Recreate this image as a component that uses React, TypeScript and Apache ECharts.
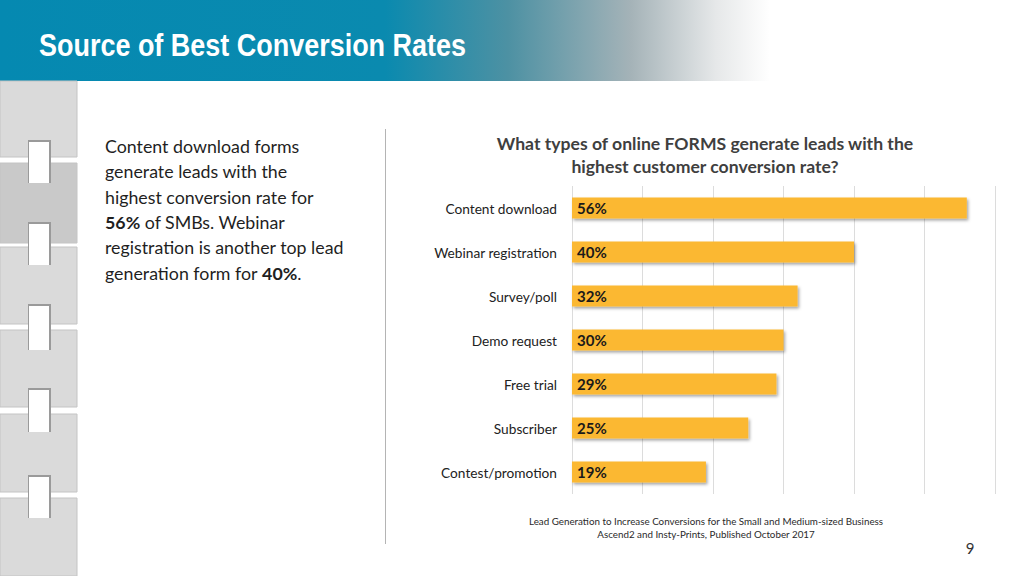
import React, { useEffect, useRef } from "react";
import * as echarts from "echarts";

const categories = [
  "Content download",
  "Webinar registration",
  "Survey/poll",
  "Demo request",
  "Free trial",
  "Subscriber",
  "Contest/promotion",
];
const values = [56, 40, 32, 30, 29, 25, 19];
const xTicks = [0, 10, 20, 30, 40, 50, 60];

const slideTitle = "Source of Best Conversion Rates";
const chartTitle = "What types of online FORMS generate leads with the\nhighest customer conversion rate?";
const bodyText =
  "Content download forms\ngenerate leads with the\nhighest conversion rate for\n{b|56%} of SMBs. Webinar\nregistration is another top lead\ngeneration form for {b|40%}.";
const sourceText =
  "Lead Generation to Increase Conversions for the Small and Medium-sized Business\nAscend2 and Insty-Prints, Published October 2017";
const pageNumber = "9";

const tiles = [
  [81, 157, "#dadada"],
  [163, 243, "#c9c9c9"],
  [247, 324, "#dadada"],
  [330, 407, "#dadada"],
  [414, 492, "#dadada"],
  [498, 576, "#dadada"],
];
const tabs = [
  [140, 183],
  [222, 265],
  [304, 350],
  [388, 432],
  [475, 518],
];

const FONT = "Lato, 'Open Sans', sans-serif";

export default function App() {
  const ref = useRef<HTMLDivElement>(null);
  useEffect(() => {
    document.body.style.margin = "0";
    const chart = echarts.init(ref.current!, null, { renderer: "svg" });
    const graphics: any[] = [];
    graphics.push({
      type: "rect",
      shape: { x: 0, y: 0, width: 770, height: 81 },
      style: {
        fill: new echarts.graphic.LinearGradient(0, 0, 1, 0, [
          { offset: 0, color: "#0589b1" },
          { offset: 0.5, color: "#0a8aaf" },
          { offset: 0.66, color: "#4d91a3" },
          { offset: 0.82, color: "#a5b3b8" },
          { offset: 0.93, color: "#e6e8e9" },
          { offset: 1, color: "#ffffff" },
        ]),
      },
      silent: true,
    });
    graphics.push({
      type: "text",
      x: 39,
      y: 45,
      scaleX: 0.87,
      style: {
        text: slideTitle,
        fill: "#ffffff",
        font: "bold 31px 'Liberation Sans', Arial, sans-serif",
        verticalAlign: "middle",
        textAlign: "left",
      },
    });
    tiles.forEach(([y0, y1, c]) => {
      graphics.push({
        type: "rect",
        shape: { x: 0, y: y0 as number, width: 77, height: (y1 as number) - (y0 as number) },
        style: { fill: c as string, stroke: "#c4c4c4", lineWidth: 1 },
      });
    });
    tabs.forEach(([y0, y1]) => {
      graphics.push({
        type: "rect",
        shape: { x: 28, y: y0, width: 23, height: y1 - y0 },
        style: { fill: "#9a9a9a" },
      });
      graphics.push({
        type: "rect",
        shape: { x: 29, y: y0 + 2, width: 20, height: y1 - y0 - 2 },
        style: { fill: "#ffffff" },
      });
    });
    graphics.push({
      type: "text",
      x: 105,
      y: 133,
      style: {
        text: bodyText,
        fill: "#1f1f1f",
        fontFamily: FONT,
        fontSize: 17.8,
        lineHeight: 25.4,
        rich: {
          b: { fontWeight: "bold", fontFamily: FONT, fontSize: 17.8, lineHeight: 25.4, fill: "#1f1f1f" },
        },
      },
    });
    graphics.push({
      type: "line",
      shape: { x1: 385.5, y1: 129, x2: 385.5, y2: 544 },
      style: { stroke: "#b4b4b4", lineWidth: 1 },
    });
    graphics.push({
      type: "text",
      x: 705,
      y: 154.5,
      style: {
        text: chartTitle,
        fill: "#3f3f3f",
        fontFamily: FONT,
        fontWeight: "bold",
        fontSize: 17.6,
        lineHeight: 23,
        textAlign: "center",
        verticalAlign: "middle",
      },
    });
    graphics.push({
      type: "text",
      x: 706,
      y: 527.5,
      style: {
        text: sourceText,
        fill: "#2a2a2a",
        fontFamily: FONT,
        fontSize: 9.8,
        lineHeight: 13,
        textAlign: "center",
        verticalAlign: "middle",
      },
    });
    graphics.push({
      type: "text",
      x: 970,
      y: 548,
      style: {
        text: pageNumber,
        fill: "#333333",
        fontFamily: FONT,
        fontSize: 15,
        textAlign: "center",
        verticalAlign: "middle",
      },
    });

    chart.setOption({
      animation: false,
      backgroundColor: "#ffffff",
      grid: { left: 572, right: 29, top: 186, height: 308, containLabel: false },
      xAxis: {
        type: "value",
        min: xTicks[0],
        max: xTicks[xTicks.length - 1],
        interval: xTicks[1] - xTicks[0],
        axisLabel: { show: false },
        axisLine: { show: false },
        axisTick: { show: false },
        splitLine: { show: true, lineStyle: { color: "#dcdcdc", width: 1 } },
      },
      yAxis: {
        type: "category",
        data: categories,
        inverse: true,
        axisLine: { show: false },
        axisTick: { show: false },
        axisLabel: {
          color: "#222222",
          fontFamily: FONT,
          fontSize: 13.7,
          margin: 15,
          padding: [0, 0, 3, 0],
        },
      },
      series: [
        {
          type: "bar",
          data: values,
          barWidth: 21,
          itemStyle: {
            color: "#fbb832",
            shadowBlur: 3,
            shadowOffsetX: 1.5,
            shadowOffsetY: 2,
            shadowColor: "rgba(0,0,0,0.35)",
          },
          label: {
            show: true,
            position: "insideLeft",
            distance: 5,
            formatter: "{c}%",
            color: "#1a1a1a",
            fontFamily: FONT,
            fontWeight: "bold",
            fontSize: 15,
          },
        },
      ],
      graphic: graphics,
    });
    return () => chart.dispose();
  }, []);
  return (
    <div
      ref={ref}
      style={{ position: "fixed", left: 0, top: 0, width: 1024, height: 576 }}
    />
  );
}
